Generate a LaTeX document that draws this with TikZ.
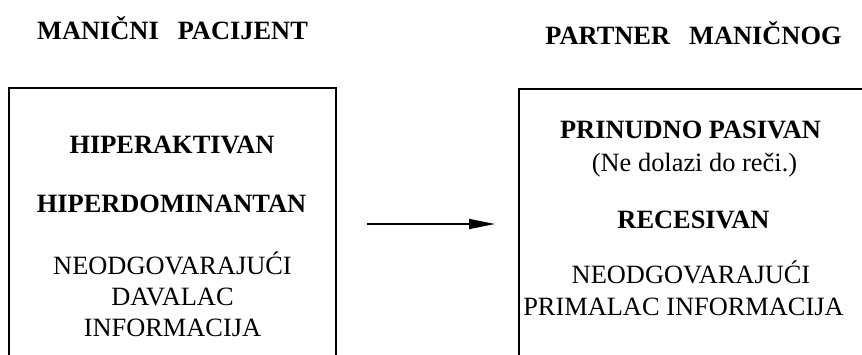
\documentclass[tikz,border=0pt]{standalone}
\usepackage{fontspec}
\setmainfont{Liberation Serif}
\usetikzlibrary{arrows.meta}
\begin{document}
\begin{tikzpicture}[x=1pt,y=-1pt,
  frame/.style={draw=black,line width=1.8pt,inner sep=0pt,outer sep=0pt,rectangle},
  hdr/.style={anchor=base,inner sep=0pt,font=\fontsize{26.4}{31}\selectfont\bfseries},
  bold/.style={anchor=base,inner sep=0pt,font=\fontsize{26.4}{31}\selectfont\bfseries},
  plain/.style={anchor=base,inner sep=0pt,font=\fontsize{26.4}{31}\selectfont},
  flow/.style={line width=1.5pt,-{Triangle[length=26pt,width=10pt]}}]
\useasboundingbox (0,0) rectangle (862,354);
\clip (0,0) rectangle (862,354);

% column headings
\node[hdr] (hl) at (172.5,39) {MANIČNI\hspace{19pt}PACIJENT};
\node[hdr] (hr) at (693.5,44) {PARTNER\hspace{19pt}MANIČNOG};

% frames (open at the bottom / right edge of the page)
\node[frame,minimum width=327pt,minimum height=272pt] (L) at (172.5,224) {};
\node[frame,minimum width=381pt,minimum height=270pt] (R) at (709.5,224) {};

% left frame contents
\node[bold]  (l1) at (172,153)   {HIPERAKTIVAN};
\node[bold]  (l2) at (171.5,212) {HIPERDOMINANTAN};
\node[plain] (l3) at (172.5,274) {NEODGOVARAJUĆI};
\node[plain] (l4) at (172.5,305) {DAVALAC};
\node[plain] (l5) at (172.5,336) {INFORMACIJA};

% right frame contents
\node[bold]  (r1) at (690.5,138) {PRINUDNO PASIVAN};
\node[plain] (r2) at (694.5,171) {(Ne dolazi do reči.)};
\node[bold]  (r3) at (693.5,228) {RECESIVAN};
\node[plain] (r4) at (691,283)   {NEODGOVARAJUĆI};
\node[plain] (r5) at (683.5,315) {PRIMALAC INFORMACIJA};

% arrow between the frames
\draw[flow,shorten <=31pt,shorten >=24pt] (L.east) -- (R.west);
\end{tikzpicture}
\end{document}
